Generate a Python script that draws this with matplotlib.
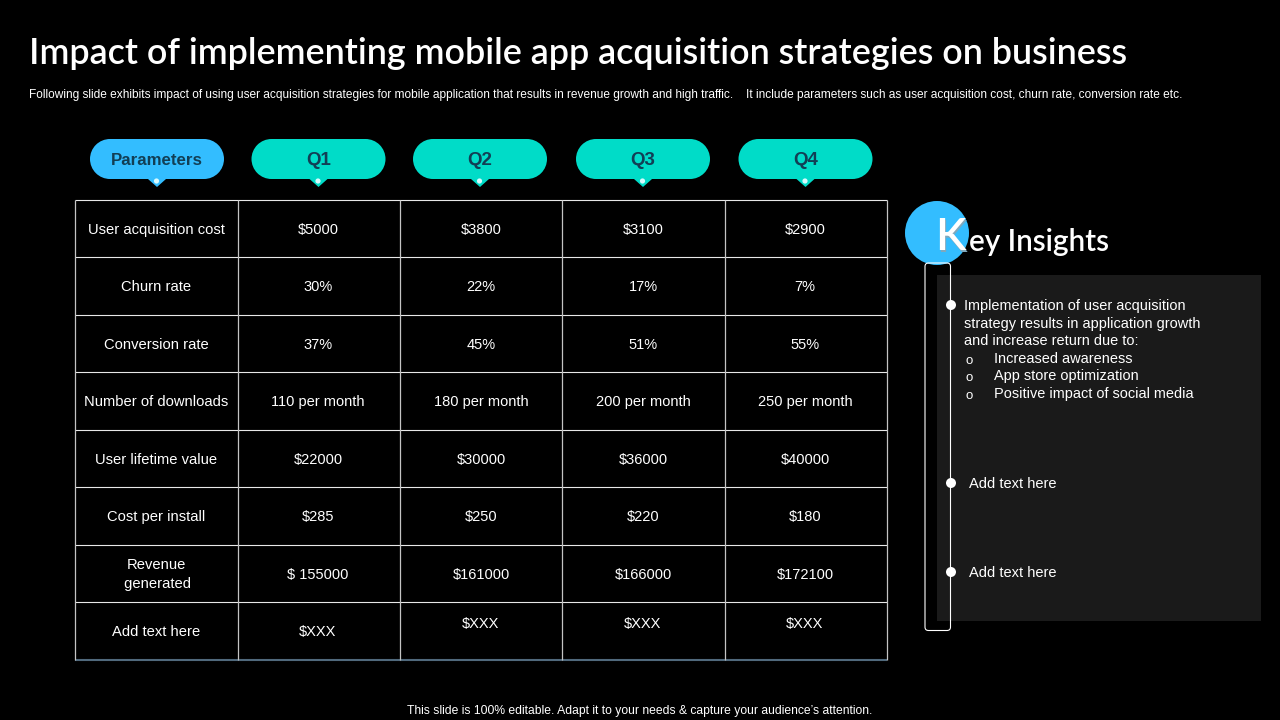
import matplotlib
matplotlib.use("Agg")
import matplotlib.pyplot as plt
from matplotlib.patches import Circle, FancyBboxPatch, Polygon, Rectangle

title = "Impact of implementing mobile app acquisition strategies on business"
subtitle_a = ("Following slide exhibits impact of using user acquisition strategies for mobile application that results "
              "in revenue growth and high traffic.")
subtitle_b = "It include parameters such as user acquisition cost, churn rate, conversion rate etc."
footer = "This slide is 100% editable. Adapt it to your needs & capture your audience\u2019s attention."

headers = ["Parameters", "Q1", "Q2", "Q3", "Q4"]
params = ["User acquisition cost", "Churn rate", "Conversion rate", "Number of downloads",
          "User lifetime value", "Cost per install", "Revenue\n generated", "Add text here"]
q1 = ["$5000", "30%", "37%", "110 per month", "$22000", "$285", "$ 155000", "$XXX"]
q2 = ["$3800", "22%", "45%", "180 per month", "$30000", "$250", "$161000", "$XXX"]
q3 = ["$3100", "17%", "51%", "200 per month", "$36000", "$220", "$166000", "$XXX"]
q4 = ["$2900", "7%", "55%", "250 per month", "$40000", "$180", "$172100", "$XXX"]

insight_lines = ["Implementation of user acquisition", "strategy results in application growth",
                 "and increase return due to:"]
insight_subs = ["Increased awareness", "App store optimization", "Positive impact of social media"]

BODY = "Liberation Sans"
BLUE = "#33bdff"
TEAL = "#00dcc8"
DARK = "#123f55"

# pixel coordinates, so the slide layout can be read straight off the reference
fig = plt.figure(figsize=(12.8, 7.2), dpi=100, facecolor="black")
ax = fig.add_axes([0, 0, 1, 1])
ax.set_xlim(0, 1280)
ax.set_ylim(720, 0)
ax.axis("off")

ax.text(29, 53.5, title, color="white", fontsize=25.85, family="Lato", weight="semibold", va="center", ha="left")
# two pieces: the hinted text width jumps in steps, this keeps both ends in place
ax.text(29, 95.3, subtitle_a, color="white", fontsize=8.6, family=BODY, va="center", ha="left")
ax.text(746, 95.3, subtitle_b, color="white", fontsize=8.6, family=BODY, va="center", ha="left")
ax.text(640, 711.3, footer, color="white", fontsize=8.7, family=BODY, va="center", ha="center")

# table grid
col_edges = [74.7, 237.7, 399.7, 561.7, 724.7, 886.7]
row_edges = [199.5, 257, 314.5, 372, 429.5, 487, 544.5, 602, 660]
col_x = [156, 318, 481, 643, 805]
head_x = [157, 318.5, 480, 643, 805.5]

for y in row_edges[:-1]:
    ax.plot([col_edges[0], col_edges[-1]], [y, y], color="#e8e8e8", lw=0.8, solid_capstyle="butt")
ax.plot([col_edges[0], col_edges[-1]], [row_edges[-1], row_edges[-1]], color="#50697c", lw=1.5, solid_capstyle="butt")
for x in col_edges:
    ax.plot([x, x], [row_edges[0], row_edges[-1]], color="#c4c4c4", lw=0.9, solid_capstyle="butt")

# header pills with their small pointers
for i, name in enumerate(headers):
    c = BLUE if i == 0 else TEAL
    x = head_x[i]
    ax.add_patch(Rectangle((x - 47, 139), 94, 40, fc=c, ec="none", zorder=2))
    ax.add_patch(Circle((x - 47, 159), 20, fc=c, ec="none", zorder=2))
    ax.add_patch(Circle((x + 47, 159), 20, fc=c, ec="none", zorder=2))
    ax.add_patch(Polygon([(x - 9, 179), (x + 9, 179), (x, 187)], fc=c, ec="none", zorder=2))
    ax.add_patch(Circle((x - 0.5, 181), 2.6, fc="#d8fbff", ec="none", zorder=3))
    size = 12.2 if i == 0 else 13.5
    ax.text(x, 160.5, name, color=DARK, fontsize=size, family=BODY, weight="bold", va="center", ha="center", zorder=4)

# table cells
for r, name in enumerate(params):
    y = (row_edges[r] + row_edges[r + 1]) / 2 + 1.3
    ax.text(col_x[0], y, name, color="white", fontsize=10.6, family=BODY, va="center", ha="center", linespacing=1.4)
    for c, col in enumerate([q1, q2, q3, q4]):
        # the last row of Q2..Q4 sits a bit higher in the reference
        dy = -8 if r == 7 and c > 0 else 0
        ax.text(col_x[c + 1], y + dy, col[r], color="white", fontsize=10.5, family=BODY, va="center", ha="center")

# key insights panel
ax.add_patch(Rectangle((937, 275), 324, 346, fc="#1a1a1a", ec="none", zorder=1))
ax.add_patch(Circle((937, 233), 32, fc=BLUE, ec="none", zorder=2))
ax.add_patch(FancyBboxPatch((925, 263), 25.5, 367.5, boxstyle="round,pad=0,rounding_size=3.5",
                            fc="none", ec="white", lw=0.8, zorder=3))
ax.text(936.5, 239, "K", color="#7fa8bd", fontsize=32.5, family="Lato", weight="semibold", va="center", ha="left", zorder=4)
ax.text(935, 237.5, "K", color="white", fontsize=32.5, family="Lato", weight="semibold", va="center", ha="left", zorder=4)
ax.text(969, 242.5, "ey Insights", color="white", fontsize=21.4, family="Lato", weight="semibold", va="center",
        ha="left", zorder=4)

for y in [305, 483, 572]:
    ax.add_patch(Circle((951, y), 5, fc="white", ec="none", zorder=4))

for i, line in enumerate(insight_lines):
    ax.text(964, 306 + i * 17.6, line, color="white", fontsize=10.45, family=BODY, va="center", ha="left", zorder=4)
for i, line in enumerate(insight_subs):
    y = 358.8 + i * 17.6
    ax.text(965, y + 2, "o", color="white", fontsize=9.5, family=BODY, va="center", ha="left", zorder=4)
    ax.text(994, y, line, color="white", fontsize=10.45, family=BODY, va="center", ha="left", zorder=4)
for y in [484, 573]:
    ax.text(969, y, "Add text here", color="white", fontsize=10.55, family=BODY, va="center", ha="left", zorder=4)

fig.savefig("out.png", dpi=100, facecolor="black")
